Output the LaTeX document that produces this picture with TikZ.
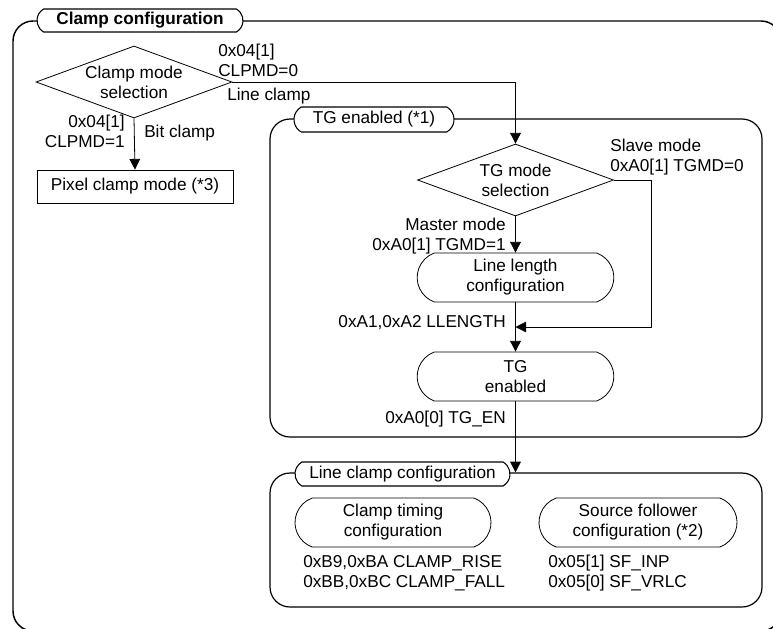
\documentclass[tikz,border=0pt]{standalone}
\usepackage{fontspec}
\setmainfont{Liberation Sans}
\usetikzlibrary{shapes.geometric,shapes.misc,arrows.meta}
\tikzset{
  every node/.style={font=\fontsize{12.9pt}{15pt}\selectfont},
  outerframe/.style={draw, line width=1.1pt, rounded corners=15pt},
  frame/.style={draw, line width=0.9pt, rounded corners=15pt, inner sep=0pt},
  tab/.style={draw, fill=white, line width=0.8pt, rounded rectangle, rounded rectangle arc length=120, inner sep=0pt},
  decision/.style={draw, diamond, line width=0.6pt, align=center, inner sep=0pt, shape aspect=2.7, minimum width=147pt, minimum height=54pt},
  stadium/.style={draw, rounded rectangle, rounded rectangle arc length=140, line width=0.6pt, align=center, inner sep=0pt, minimum width=147.5pt, minimum height=36.75pt},
  procbox/.style={draw, rectangle, line width=0.6pt, inner sep=0pt, minimum width=147pt, minimum height=24.75pt},
  lbl/.style={inner sep=0pt},
  arr/.style={line width=0.6pt, -{Triangle[length=8pt,width=8pt]}},
  conn/.style={line width=0.6pt}
}
\begin{document}
\begin{tikzpicture}[x=0.75pt,y=-0.75pt]
\useasboundingbox (0,0) rectangle (773,628);
\clip (0,0) rectangle (773,628);
% outer frame
\draw[outerframe] (13,21) rectangle (781,631);
% TG frame
\node[frame, minimum width=369pt, minimum height=238.5pt] (tgf) at (516,278) {};
% Line clamp frame
\node[frame, minimum width=369pt, minimum height=100.5pt] (lcf) at (516,540) {};
% tabs
\node[tab, minimum width=154.5pt, minimum height=17.25pt, font=\fontsize{12.9pt}{15pt}\selectfont\bfseries] (t1) at (140,20.5) {Clamp configuration};
\node[tab, minimum width=120pt, minimum height=18.75pt] (t2) at (374,119.5) {TG enabled (*1)};
\node[tab, minimum width=161.25pt, minimum height=18pt] (t3) at (402.5,474) {Line clamp configuration};
% decisions and boxes
\node[decision] (cms) at (134,82) {Clamp mode\\selection};
\node[procbox] (pix) at (135,186.5) {Pixel clamp mode (*3)};
\node[decision] (tgm) at (515.5,180) {TG mode\\selection};
\node[stadium] (ll) at (515.5,277.5) {Line length\\configuration};
\node[stadium] (tg) at (515.5,376.5) {TG\\enabled};
\node[stadium, minimum width=147pt] (ct) at (393,522.5) {Clamp timing\\configuration};
\node[stadium, minimum width=148.5pt] (sf) at (638,522.5) {Source follower\\configuration (*2)};
% connectors
\coordinate (sw) at (651,327);
\coordinate (m) at (515.5,327);
\draw[arr] (cms.east) -| (tgm.north);
\draw[arr] (cms.south) -- (pix.north);
\draw[arr] (tgm.south) -- (ll.north);
\draw[arr] (ll.south) -- (tg.north);
\draw[arr] (tgm.east) -| (sw) -- (m);
\draw[arr] (tg.south) -- (tg.south |- lcf.north);
% labels
\node[lbl, anchor=base west] (l1) at (218,56) {0x04[1]};
\node[lbl, anchor=base west] (l2) at (218,76) {CLPMD=0};
\node[lbl, anchor=base west] (l3) at (227,100) {Line clamp};
\node[lbl, anchor=base east] (l4) at (125,127) {0x04[1]};
\node[lbl, anchor=base east] (l5) at (125,147) {CLPMD=1};
\node[lbl, anchor=base west] (l6) at (144,137) {Bit clamp};
\node[lbl, anchor=base west] (l7) at (610,151) {Slave mode};
\node[lbl, anchor=base west] (l8) at (610,171) {0xA0[1] TGMD=0};
\node[lbl, anchor=base east] (l9) at (506,230) {Master mode};
\node[lbl, anchor=base east] (l10) at (506,250) {0xA0[1] TGMD=1};
\node[lbl, anchor=base east] (l11) at (506,327) {0xA1,0xA2 LLENGTH};
\node[lbl, anchor=base east] (l12) at (506,423) {0xA0[0] TG\_EN};
\node[lbl, anchor=base west] (l13) at (303,567) {0xB9,0xBA CLAMP\_RISE};
\node[lbl, anchor=base west] (l14) at (303,587) {0xBB,0xBC CLAMP\_FALL};
\node[lbl, anchor=base west] (l15) at (548,567) {0x05[1] SF\_INP};
\node[lbl, anchor=base west] (l16) at (548,587) {0x05[0] SF\_VRLC};
\end{tikzpicture}
\end{document}
